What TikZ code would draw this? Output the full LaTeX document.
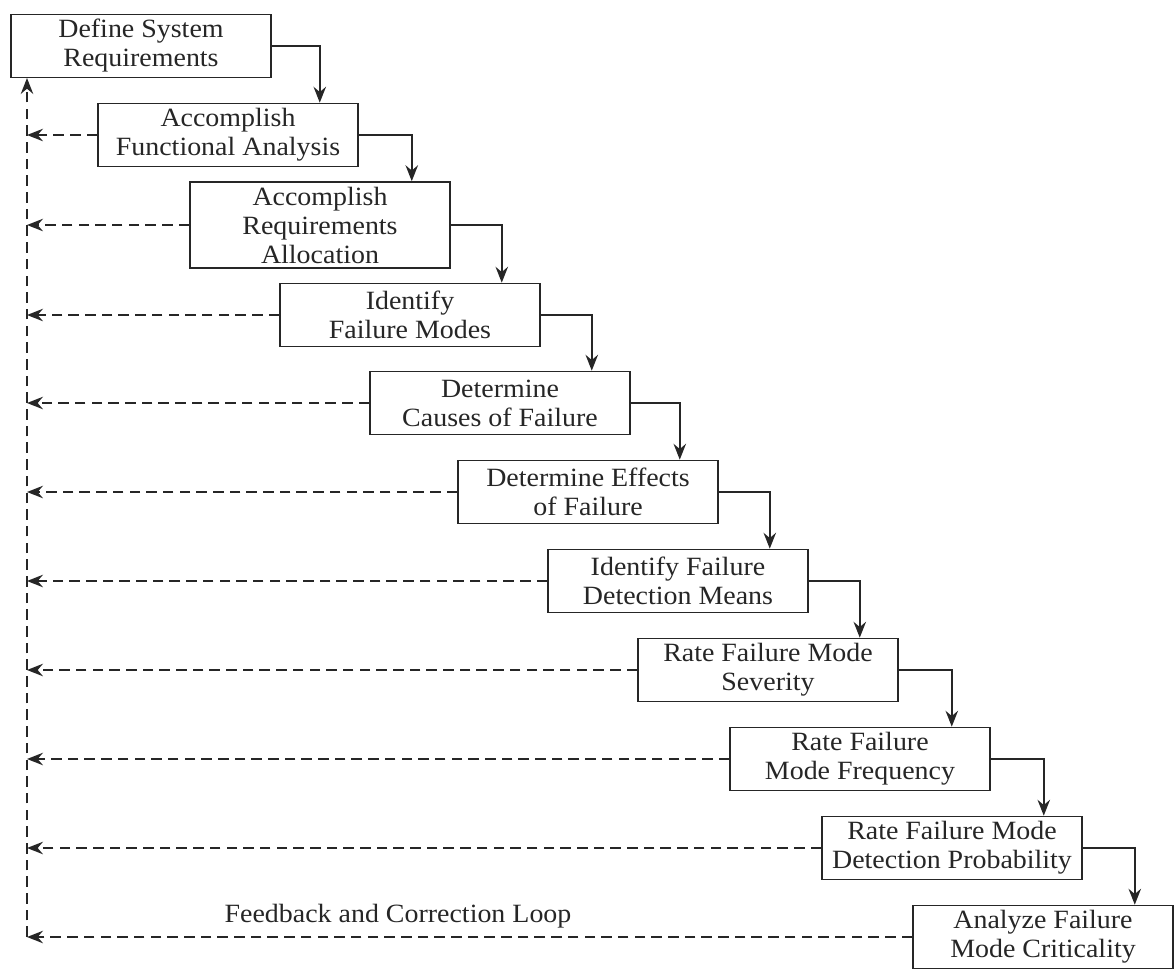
\documentclass[tikz,border=0pt]{standalone}
\usepackage{fontspec}
\setmainfont{Liberation Serif}[FakeStretch=1.06]
\usetikzlibrary{arrows.meta}
\definecolor{ink}{HTML}{262626}

\begin{document}
\begin{tikzpicture}[x=0.02cm,y=-0.02cm,
    stage/.style={draw=ink,line width=0.9pt,minimum width=5.2cm,minimum height=1.26cm,
      align=center,inner sep=2pt,text=ink,font=\fontsize{15}{16.5}\selectfont},
    flow/.style={draw=ink,line width=1.4pt,-{Stealth[length=9pt,width=7pt]}},
    loopback/.style={draw=ink,line width=1.4pt,dash pattern=on 6pt off 3.5pt,-{Stealth[length=9pt,width=7pt]}}]
  \useasboundingbox (0,0) rectangle (1174,968);
  \fill[white] (0,0) rectangle (1174,968);
          \node[stage] (1) at (141,46) {Define System\\Requirements};
          \node[stage] (2) at (228,135) {Accomplish\\Functional Analysis};
          \node[stage,minimum height=1.72cm] (3) at (320,225) {Accomplish\\Requirements\\Allocation};
          \node[stage] (4) at (410,315) {Identify\\Failure Modes};
          \node[stage] (5) at (500,403) {Determine\\Causes of Failure};
          \node[stage] (6) at (588,492) {Determine Effects\\of Failure};
          \node[stage] (7) at (678,581) {Identify Failure\\Detection Means};
          \node[stage] (8) at (768,670) {Rate Failure Mode\\Severity};
          \node[stage] (9) at (860,759) {Rate Failure\\Mode Frequency};
          \node[stage] (10) at (952,848) {Rate Failure Mode\\Detection Probability};
          \node[stage] (11) at (1043,937) {Analyze Failure\\Mode Criticality};
          \coordinate (top) at (27,78);
          \coordinate (bottom) at (27,937);
          \node[text=ink,font=\fontsize{15}{16.5}\selectfont] (label) at (398,916) {Feedback and Correction Loop};
          \draw[flow] (1.east) -| ([xshift=-0.78cm]2.north east);
          \draw[flow] (2.east) -| ([xshift=-0.78cm]3.north east);
          \draw[flow] (3.east) -| ([xshift=-0.78cm]4.north east);
          \draw[flow] (4.east) -| ([xshift=-0.78cm]5.north east);
          \draw[flow] (5.east) -| ([xshift=-0.78cm]6.north east);
          \draw[flow] (6.east) -| ([xshift=-0.78cm]7.north east);
          \draw[flow] (7.east) -| ([xshift=-0.78cm]8.north east);
          \draw[flow] (8.east) -| ([xshift=-0.78cm]9.north east);
          \draw[flow] (9.east) -| ([xshift=-0.78cm]10.north east);
          \draw[flow] (10.east) -| ([xshift=-0.78cm]11.north east);
          \draw[loopback] (2.west) -- (2.west -| top);
          \draw[loopback] (3.west) -- (3.west -| top);
          \draw[loopback] (4.west) -- (4.west -| top);
          \draw[loopback] (5.west) -- (5.west -| top);
          \draw[loopback] (6.west) -- (6.west -| top);
          \draw[loopback] (7.west) -- (7.west -| top);
          \draw[loopback] (8.west) -- (8.west -| top);
          \draw[loopback] (9.west) -- (9.west -| top);
          \draw[loopback] (10.west) -- (10.west -| top);
          \draw[loopback] (11.west) -- (bottom);
          \draw[loopback] (bottom) -- (top);
        \end{tikzpicture}
\end{document}
